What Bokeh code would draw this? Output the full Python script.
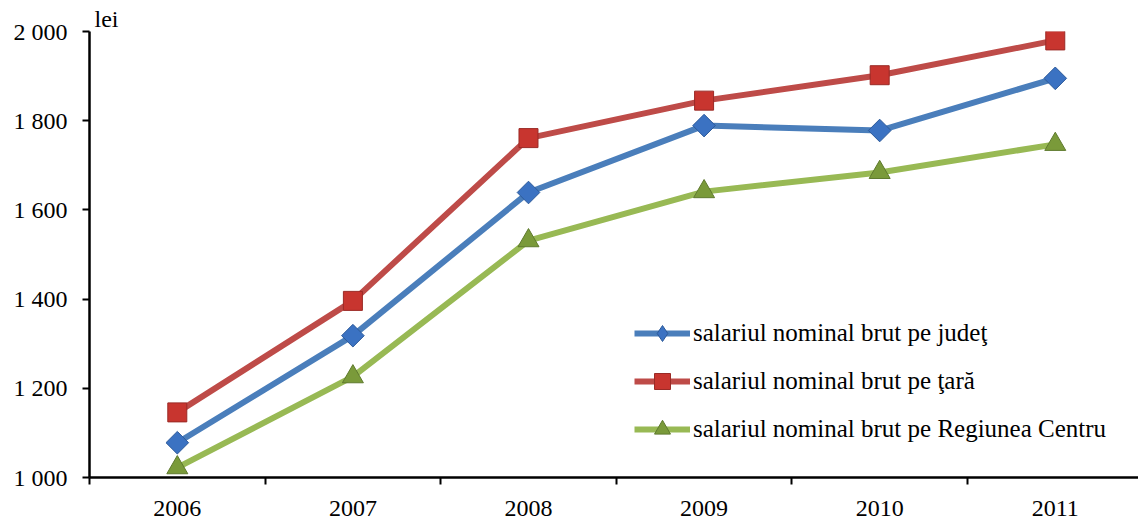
import math
from bokeh.plotting import figure
from bokeh.models import FixedTicker, Range1d, Legend
from bokeh.embed import file_html
from bokeh.resources import INLINE

years = ["2006", "2007", "2008", "2009", "2010", "2011"]
judet = [1078, 1318, 1639, 1789, 1778, 1895]
tara = [1146, 1396, 1761, 1845, 1902, 1980]
centru = [1022, 1226, 1531, 1641, 1684, 1747]
y_ticks = [1000, 1200, 1400, 1600, 1800, 2000]
y_labels = ["1 000", "1 200", "1 400", "1 600", "1 800", "2 000"]
names = ["salariul nominal brut pe judeţ", "salariul nominal brut pe ţară",
         "salariul nominal brut pe Regiunea Centru"]
unit = "lei"

xs = list(range(len(years)))
FONT = "Liberation Serif"

p = figure(width=1138, height=519, output_backend="svg", toolbar_location=None,
           x_range=Range1d(-0.5, 5.474), y_range=Range1d(1000, 2000),
           min_border_left=89, min_border_right=0, min_border_top=31, min_border_bottom=42)
p.outline_line_color = None
p.grid.grid_line_color = None
p.background_fill_color = "white"

p.title.text = unit
p.title.align = "left"
p.title.offset = 5
p.title.standoff = 0
p.title.text_font = FONT
p.title.text_font_size = "24px"
p.title.text_font_style = "normal"
p.title.text_color = "black"

# x axis
p.xaxis.ticker = FixedTicker(ticks=xs, minor_ticks=[i - 0.5 for i in range(len(years) + 1)])
p.xaxis.major_label_overrides = {i: y for i, y in enumerate(years)}
p.xaxis.major_tick_line_color = None
p.xaxis.major_tick_out = 0
p.xaxis.major_tick_in = 0
p.xaxis.minor_tick_out = 7
p.xaxis.minor_tick_in = 0
p.xaxis.minor_tick_line_width = 2
p.xaxis.minor_tick_line_color = "black"
p.xaxis.axis_line_width = 2.5
p.xaxis.axis_line_color = "black"
p.xaxis.major_label_standoff = 16
# y axis
p.yaxis.ticker = FixedTicker(ticks=y_ticks, minor_ticks=[])
p.yaxis.major_label_overrides = {t: l for t, l in zip(y_ticks, y_labels)}
p.yaxis.major_tick_out = 7
p.yaxis.major_tick_in = 0
p.yaxis.major_tick_line_width = 2
p.yaxis.axis_line_width = 2.5
p.yaxis.axis_line_color = "black"
p.yaxis.major_label_standoff = 15
for ax in (p.xaxis, p.yaxis):
    ax.major_label_text_font = FONT
    ax.major_label_text_font_size = "24px"
    ax.major_label_text_color = "black"

blue, blue_m = "#4a7ebb", "#3b72c2"
red, red_m = "#be4b48", "#c8352f"
green, green_m = "#98b954", "#7a9a3a"

r1 = p.line(xs, judet, line_color=blue, line_width=6)
m1 = p.scatter(xs, judet, marker="square", angle=math.pi / 4, size=16,
               fill_color=blue_m, line_color="#2c5a9a", line_width=1)
# zero-size diamond on the same data: invisible in the plot, shows a diamond in the legend
d1 = p.scatter(xs, judet, marker="diamond", size=0, fill_color=blue_m, line_color="#2c5a9a", line_width=1)
r2 = p.line(xs, tara, line_color=red, line_width=6)
m2 = p.scatter(xs, tara, marker="square", size=19, fill_color=red_m, line_color="#9a2a26", line_width=1)
r3 = p.line(xs, centru, line_color=green, line_width=6)
m3 = p.scatter(xs, centru, marker="triangle", size=21, fill_color=green_m, line_color="#5f7a2e", line_width=1)

legend = Legend(items=[(names[0], [r1, d1]), (names[1], [r2, m2]), (names[2], [r3, m3])],
                location=(545, 28), orientation="vertical",
                glyph_width=56, glyph_height=40, label_height=40, spacing=8, label_standoff=3,
                padding=0, margin=0,
                label_text_font=FONT, label_text_font_size="25px", label_text_color="black",
                border_line_color=None, background_fill_alpha=0)
p.add_layout(legend, "center")

open("out.html", "w").write(file_html(p, INLINE))
